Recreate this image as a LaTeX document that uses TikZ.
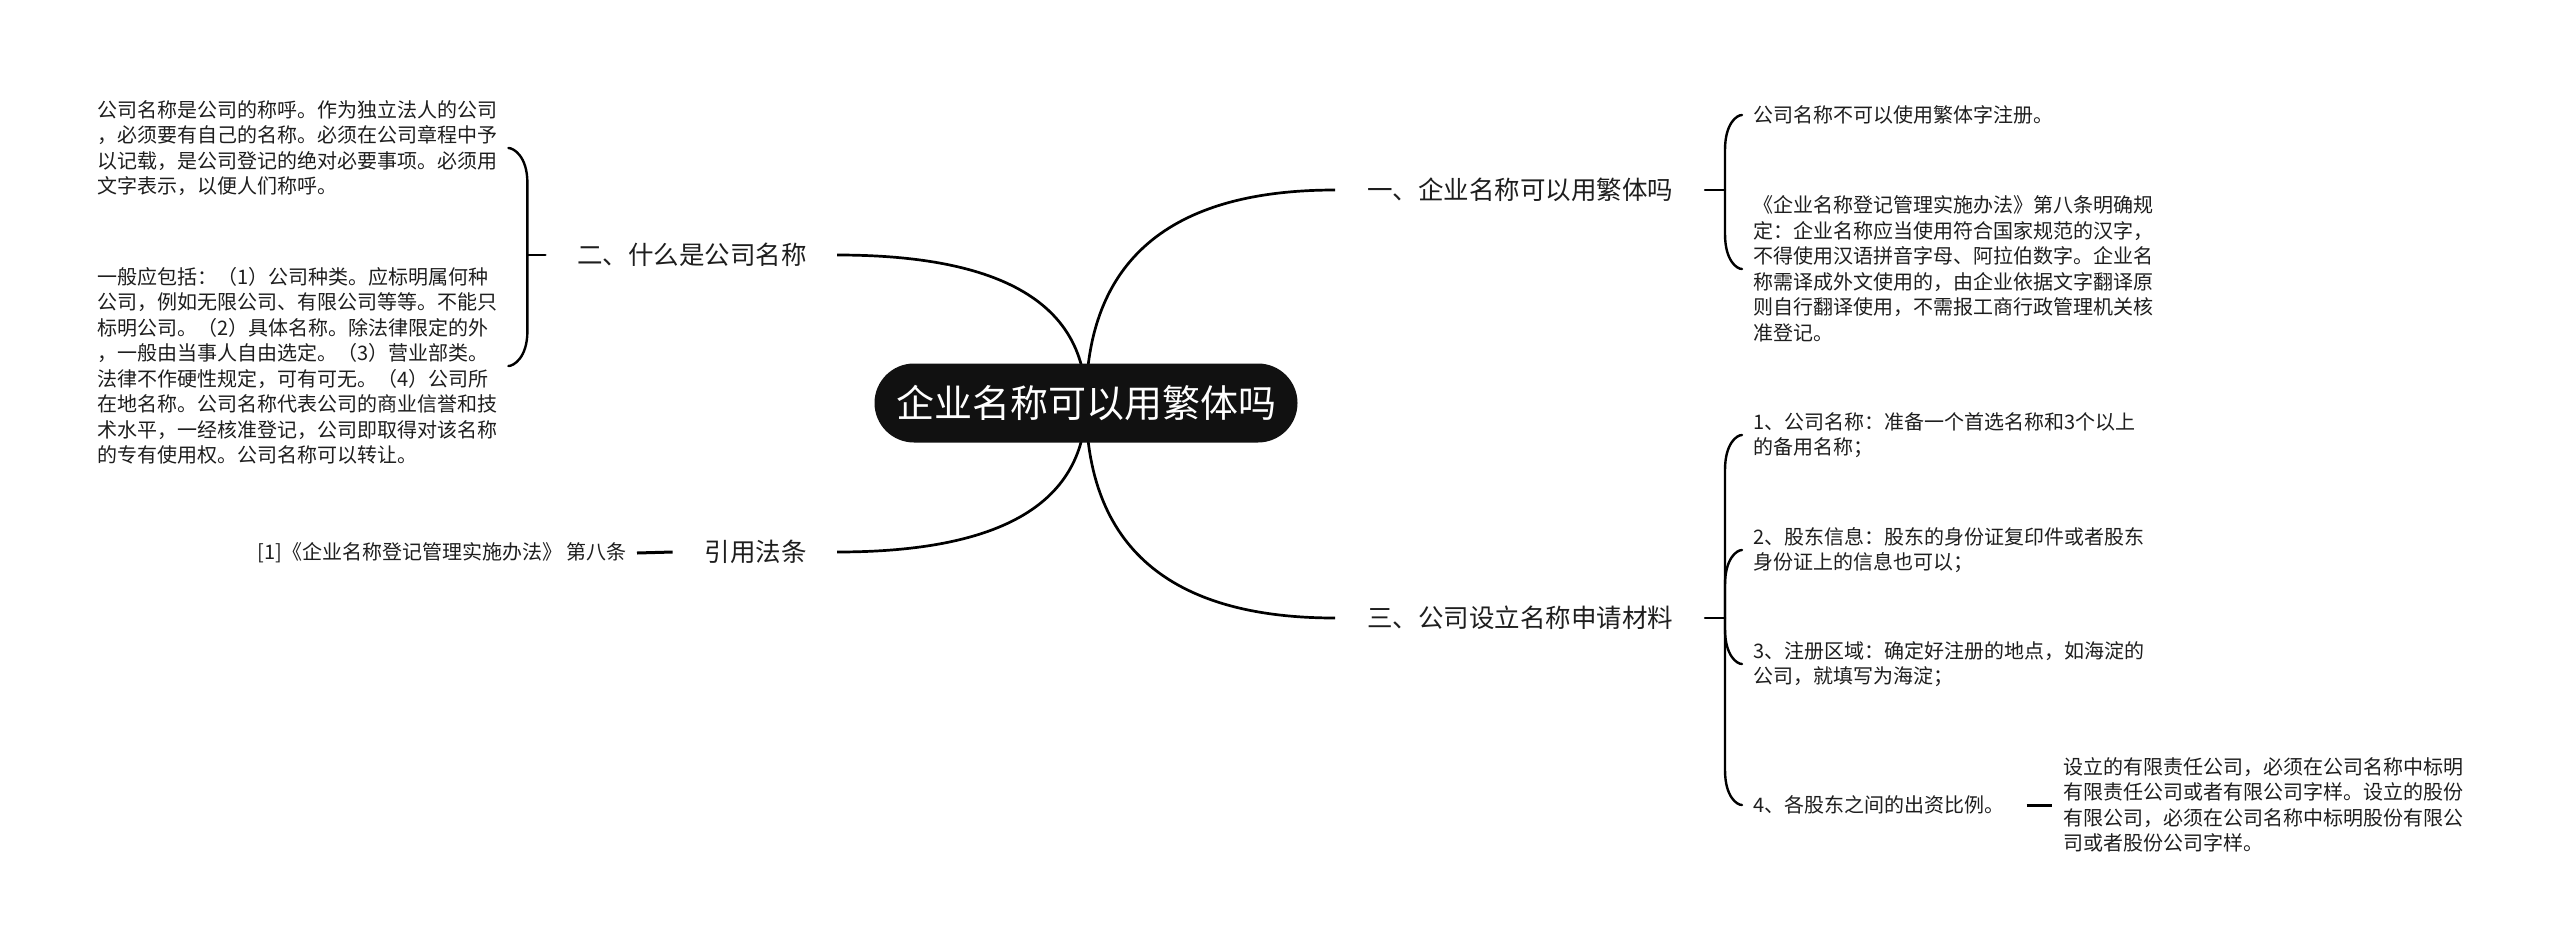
\documentclass[tikz,border=0pt]{standalone}
\usepackage{fontspec}
\newfontfamily\cjk{Noto Sans CJK SC}
\usetikzlibrary{calc}
\pgfdeclarelayer{background}
\pgfsetlayers{background,main}
\definecolor{ink}{HTML}{1E1E1E}
\definecolor{topicfill}{HTML}{111111}
\begin{document}
\begin{tikzpicture}[x=1pt,y=-1pt,
  topic/.style={fill=topicfill, rounded corners=39.5pt, minimum width=423pt, minimum height=79pt, inner sep=0pt, text=white, font=\cjk\fontsize{38}{40}\selectfont},
  branch/.style={inner sep=0pt, text=ink, font=\cjk\fontsize{25.5}{30}\selectfont},
  small/.style={inner sep=0pt, text=ink, align=left, font=\cjk\fontsize{20}{25.5}\selectfont},
  mainline/.style={draw=black, line width=2.7pt},
  tickline/.style={draw=black, line width=3pt},
  braceline/.style={draw=black, line width=2.4pt, line cap=round}
]
\useasboundingbox (0,0) rectangle (2560,951);

% central topic
\node[topic] (c) at (1086,403) {企业名称可以用繁体吗};

% main branches
\node[branch, anchor=west] (b1) at (1367,190) {一、企业名称可以用繁体吗};
\node[branch, anchor=east] (b2) at (807,255) {二、什么是公司名称};
\node[branch, anchor=west] (b3) at (1367,618) {三、公司设立名称申请材料};
\node[branch, anchor=east] (b4) at (807,552) {引用法条};

% left children of b2
\node[small, anchor=west, text width=400pt] (L1) at (97,148) {公司名称是公司的称呼。作为独立法人的公司\\，必须要有自己的名称。必须在公司章程中予\\以记载，是公司登记的绝对必要事项。必须用\\文字表示，以便人们称呼。};
\node[small, anchor=west, text width=400pt] (L2) at (97,366) {一般应包括：（1）公司种类。应标明属何种\\公司，例如无限公司、有限公司等等。不能只\\标明公司。（2）具体名称。除法律限定的外\\，一般由当事人自由选定。（3）营业部类。\\法律不作硬性规定，可有可无。（4）公司所\\在地名称。公司名称代表公司的商业信誉和技\\术水平，一经核准登记，公司即取得对该名称\\的专有使用权。公司名称可以转让。};

% reference
\node[small, anchor=east] (ref) at (627,553) {[1]《企业名称登记管理实施办法》 第八条};

% right children of b1
\node[small, anchor=west] (R1) at (1753,115) {公司名称不可以使用繁体字注册。};
\node[small, anchor=west] (R2) at (1753,269) {《企业名称登记管理实施办法》第八条明确规\\定：企业名称应当使用符合国家规范的汉字，\\不得使用汉语拼音字母、阿拉伯数字。企业名\\称需译成外文使用的，由企业依据文字翻译原\\则自行翻译使用，不需报工商行政管理机关核\\准登记。};

% right children of b3
\node[small, anchor=west] (C1) at (1753,435) {1、公司名称：准备一个首选名称和3个以上\\的备用名称；};
\node[small, anchor=west] (C2) at (1753,550) {2、股东信息：股东的身份证复印件或者股东\\身份证上的信息也可以；};
\node[small, anchor=west] (C3) at (1753,664) {3、注册区域：确定好注册的地点，如海淀的\\公司，就填写为海淀；};
\node[small, anchor=west] (C4) at (1753,805) {4、各股东之间的出资比例。};
\node[small, anchor=west] (G) at (2063,805) {设立的有限责任公司，必须在公司名称中标明\\有限责任公司或者有限公司字样。设立的股份\\有限公司，必须在公司名称中标明股份有限公\\司或者股份公司字样。};

% main curves (behind the central topic)
\coordinate (e1) at ($(b1.west)+(-32,0)$);
\coordinate (e2) at ($(b2.east)+(30,0)$);
\coordinate (e3) at ($(b3.west)+(-32,0)$);
\coordinate (e4) at ($(b4.east)+(30,0)$);
\coordinate (k1) at (c.center|-e1);
\coordinate (k2) at (c.center|-e2);
\coordinate (k3) at (c.center|-e3);
\coordinate (k4) at (c.center|-e4);
\begin{pgfonlayer}{background}
\fill[white] (0,0) rectangle (2560,951);
\draw[mainline] (c.center) .. controls ($(c.center)!0.667!(k1)$) and ($(e1)!0.667!(k1)$) .. (e1);
\draw[mainline] (c.center) .. controls ($(c.center)!0.667!(k2)$) and ($(e2)!0.667!(k2)$) .. (e2);
\draw[mainline] (c.center) .. controls ($(c.center)!0.667!(k3)$) and ($(e3)!0.667!(k3)$) .. (e3);
\draw[mainline] (c.center) .. controls ($(c.center)!0.667!(k4)$) and ($(e4)!0.667!(k4)$) .. (e4);
\end{pgfonlayer}

% reference tick
\draw[tickline] ($(b4.west)+(-32,0)$) -- ($(ref.east)+(10,0)$);
% grandchild tick
\draw[tickline] ($(C4.east)+(22,0)$) -- ($(G.west)+(-11,0)$);

% left brace (b2)
\coordinate (v2) at ($(L1.east|-b2.west)+(30,0)$);
\draw[braceline] ($(v2)+(18,0)$) -- (v2);
\draw[braceline] (v2) -- ($(v2|-L1.east)+(0,35)$) .. controls ($(v2|-L1.east)+(0,8)$) and ($(L1.east)+(16,0)$) .. ($(L1.east)+(11,0)$);
\draw[braceline] (v2) -- ($(v2|-L2.east)+(0,-35)$) .. controls ($(v2|-L2.east)+(0,-8)$) and ($(L2.east)+(16,0)$) .. ($(L2.east)+(11,0)$);

% right brace (b1)
\coordinate (v1) at ($(R1.west|-b1.east)+(-28,0)$);
\draw[braceline] ($(v1)+(-20,0)$) -- (v1);
\draw[braceline] (v1) -- ($(v1|-R1.west)+(0,35)$) .. controls ($(v1|-R1.west)+(0,8)$) and ($(R1.west)+(-16,0)$) .. ($(R1.west)+(-11,0)$);
\draw[braceline] (v1) -- ($(v1|-R2.west)+(0,-35)$) .. controls ($(v1|-R2.west)+(0,-8)$) and ($(R2.west)+(-16,0)$) .. ($(R2.west)+(-11,0)$);

% right brace (b3)
\coordinate (v3) at ($(C1.west|-b3.east)+(-28,0)$);
\draw[braceline] ($(v3)+(-20,0)$) -- (v3);
\draw[braceline] (v3) -- ($(v3|-C1.west)+(0,35)$) .. controls ($(v3|-C1.west)+(0,8)$) and ($(C1.west)+(-16,0)$) .. ($(C1.west)+(-11,0)$);
\draw[braceline] (v3) -- ($(v3|-C2.west)+(0,35)$) .. controls ($(v3|-C2.west)+(0,8)$) and ($(C2.west)+(-16,0)$) .. ($(C2.west)+(-11,0)$);
\draw[braceline] (v3) -- ($(v3|-C3.west)+(0,-35)$) .. controls ($(v3|-C3.west)+(0,-8)$) and ($(C3.west)+(-16,0)$) .. ($(C3.west)+(-11,0)$);
\draw[braceline] (v3) -- ($(v3|-C4.west)+(0,-35)$) .. controls ($(v3|-C4.west)+(0,-8)$) and ($(C4.west)+(-16,0)$) .. ($(C4.west)+(-11,0)$);
\end{tikzpicture}
\end{document}
